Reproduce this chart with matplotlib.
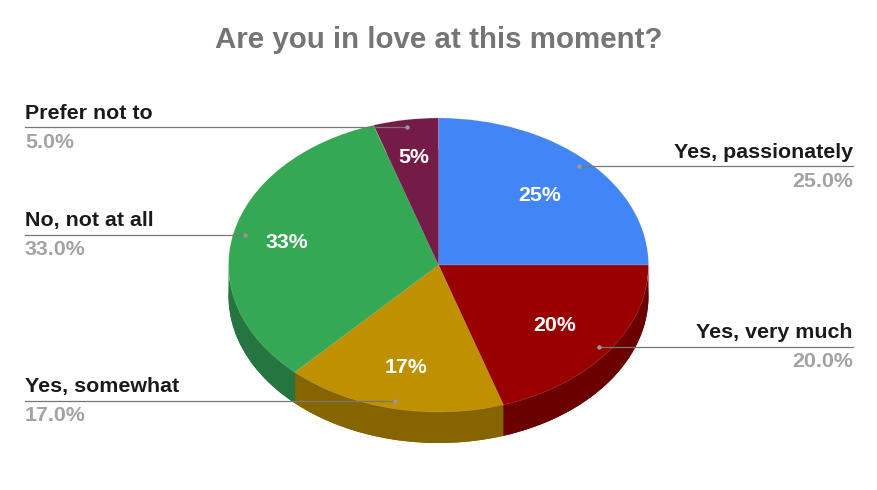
import numpy as np
import matplotlib
matplotlib.use("Agg")
import matplotlib.pyplot as plt
from matplotlib.patches import Polygon

plt.rcParams['font.family'] = ['Liberation Sans', 'DejaVu Sans']

categories = ["Yes, passionately", "Yes, very much", "Yes, somewhat", "No, not at all", "Prefer not to"]
values = [25.0, 20.0, 17.0, 33.0, 5.0]
top_colors = ["#4285f4", "#990000", "#bf9000", "#34a853", "#741b47"]
side_colors = ["#2e5dab", "#6b0000", "#866500", "#247540", "#511332"]

W, H = 877, 490
CX, CY, RX, RY, DEPTH = 438.5, 265, 210, 147, 31

fig = plt.figure(figsize=(W / 100, H / 100), dpi=100, facecolor="white")

# pie axes: one data unit = RX px across, RY px down, so the circle is foreshortened
pie_ax = fig.add_axes([(CX - 1.25 * RX) / W, 1 - (CY + 1.25 * RY) / H, 2.5 * RX / W, 2.5 * RY / H], zorder=1)
pie_ax.patch.set_alpha(0)
d = DEPTH / RY

canvas = fig.add_axes([0, 0, 1, 1], zorder=2)
canvas.set_xlim(0, W)
canvas.set_ylim(H, 0)
canvas.axis("off")
canvas.patch.set_alpha(0)

fracs = np.array(values) / sum(values)
edges = np.concatenate([[0], np.cumsum(fracs)]) * 2 * np.pi  # clockwise from 12 o'clock

# lower rim
pie_ax.pie(values, colors=side_colors, startangle=90, counterclock=False, radius=1,
           center=(0, -d), frame=False, wedgeprops=dict(linewidth=0), normalize=True)
# side walls
for i, col in enumerate(side_colors):
    a0, a1 = max(edges[i], np.pi / 2), min(edges[i + 1], 3 * np.pi / 2)
    if a1 <= a0:
        continue
    t = np.linspace(a0, a1, 80)
    upper = np.c_[np.sin(t), np.cos(t)]
    lower = (upper - [0, d])[::-1]
    pie_ax.add_patch(Polygon(np.vstack([upper, lower]), closed=True, fc=col, ec="none", zorder=1.5))
# top face
pie_ax.pie(values, colors=top_colors, startangle=90, counterclock=False, radius=1,
           center=(0, 0), frame=False,
           wedgeprops=dict(linewidth=0.4, edgecolor=(1, 1, 1, 0.25), zorder=2), normalize=True)
pie_ax.set_aspect("auto")
pie_ax.set_xlim(-1.25, 1.25)
pie_ax.set_ylim(-1.25, 1.25)
pie_ax.axis("off")

# title
canvas.text(438.5, 40, "Are you in love at this moment?", ha="center", va="center",
            fontsize=21.25, fontweight="bold", color="#757575")

# slice percentages and leaders
mid = (edges[:-1] + edges[1:]) / 2
pct_r = [0.68, 0.685, 0.71, 0.74, 0.745]
dot_r = 0.945
sides = ["R", "R", "L", "L", "L"]
for i, cat in enumerate(categories):
    px = CX + pct_r[i] * RX * np.sin(mid[i])
    py = CY - pct_r[i] * RY * np.cos(mid[i]) + 1
    canvas.text(px, py, f"{values[i]:.0f}%", ha="center", va="center", fontsize=15.4,
                fontweight="bold", color="white", zorder=5)
    dx = CX + dot_r * RX * np.sin(mid[i])
    y = round(CY - dot_r * RY * np.cos(mid[i])) - 0.5
    if sides[i] == "R":
        canvas.plot([dx, 853], [y, y], color="#777777", lw=0.9, zorder=4)
        tx, ha = 853, "right"
    else:
        canvas.plot([25, dx], [y, y], color="#777777", lw=0.9, zorder=4)
        tx, ha = 25, "left"
    canvas.plot([dx], [y], "o", ms=3.2, color="#999999", mec="none", zorder=4)
    canvas.text(tx, y - 14, cat, ha=ha, va="center", fontsize=15.4, fontweight="bold", color="#1a1a1a", zorder=5)
    canvas.text(tx, y + 15, f"{values[i]:.1f}%", ha=ha, va="center", fontsize=15.4, fontweight="bold", color="#a3a3a3", zorder=5)

fig.savefig("out.png", dpi=100, facecolor="white")
